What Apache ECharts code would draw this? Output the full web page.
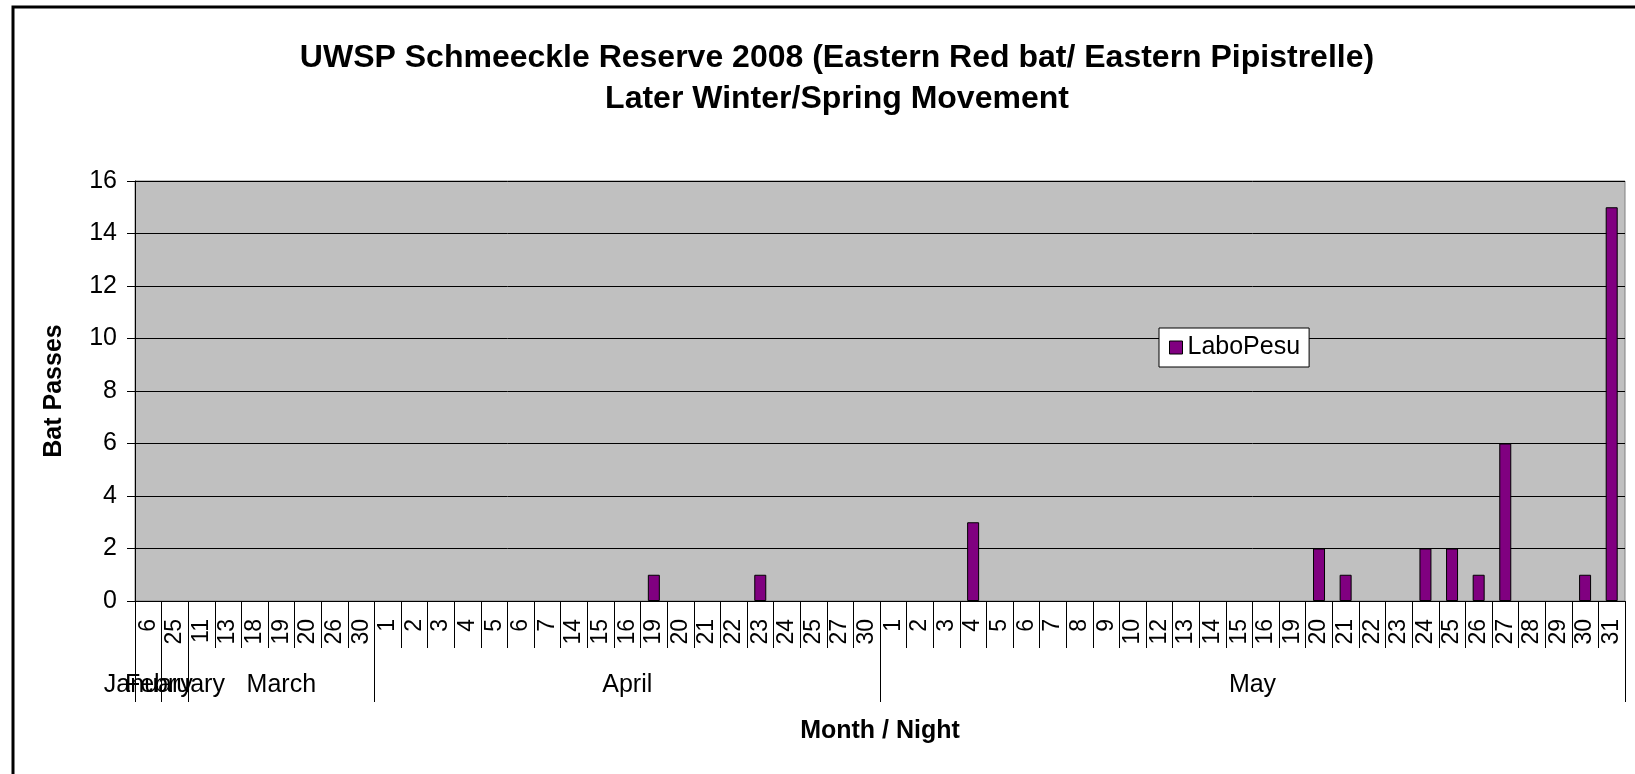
<!DOCTYPE html>
<html>
<head>
<meta charset="utf-8">
<script src="https://cdn.jsdelivr.net/npm/echarts@6/dist/echarts.min.js"></script>
<style>
html,body{margin:0;padding:0;background:#fff;}
#chart{width:1635px;height:774px;}
</style>
</head>
<body>
<div id="chart"></div>
<script>
// ---- data ----
const monthNames = ['January', 'February', 'March', 'April', 'May'];
const janDays = ['6'];
const febDays = ['25'];
const marDays = ['11', '13', '18', '19', '20', '26', '30'];
const aprDays = ['1', '2', '3', '4', '5', '6', '7', '14', '15', '16', '19', '20', '21', '22', '23', '24', '25', '27', '30'];
const mayDays = ['1', '2', '3', '4', '5', '6', '7', '8', '9', '10', '12', '13', '14', '15', '16', '19', '20', '21', '22', '23', '24', '25', '26', '27', '28', '29', '30', '31'];
const janVals = [0];
const febVals = [0];
const marVals = [0, 0, 0, 0, 0, 0, 0];
const aprVals = [0, 0, 0, 0, 0, 0, 0, 0, 0, 0, 1, 0, 0, 0, 1, 0, 0, 0, 0];
const mayVals = [0, 0, 0, 3, 0, 0, 0, 0, 0, 0, 0, 0, 0, 0, 0, 0, 2, 1, 0, 0, 2, 2, 1, 6, 0, 0, 1, 15];
const seriesName = 'LaboPesu';
const yTicks = { min: 0, max: 16, interval: 2 };

// ---- build ----
const monthDays = [janDays, febDays, marDays, aprDays, mayDays];
const monthVals = [janVals, febVals, marVals, aprVals, mayVals];
const categories = [].concat(...monthDays);
const values = [].concat(...monthVals);
const boundaries = [0];
const centers = [];
monthDays.forEach(d => {
  const start = boundaries[boundaries.length - 1];
  centers.push(start + d.length / 2);
  boundaries.push(start + d.length);
});
const N = categories.length;
const FONT = 'Liberation Sans, Arial, sans-serif';

function monthAxis(parity, withTicks) {
  const vals = centers.filter((c, i) => i % 2 === parity);
  return {
    type: 'value',
    position: 'bottom',
    min: 0,
    max: N,
    axisLine: { show: false },
    axisTick: { show: withTicks, customValues: boundaries, length: 101, lineStyle: { color: '#000' } },
    axisLabel: {
      show: true,
      customValues: vals,
      showMinLabel: true,
      showMaxLabel: true,
      hideOverlap: false,
      margin: 72,
      fontFamily: FONT, fontSize: 25, color: '#000',
      formatter: function (v) {
        const i = centers.findIndex(c => Math.abs(c - v) < 1e-6);
        return i >= 0 ? monthNames[i] : '';
      }
    },
    splitLine: { show: false }
  };
}

const chart = echarts.init(document.getElementById('chart'));
chart.setOption({
  animation: false,
  backgroundColor: '#ffffff',
  textStyle: { fontFamily: FONT, color: '#000' },
  title: {
    text: 'UWSP Schmeeckle Reserve 2008 (Eastern Red bat/ Eastern Pipistrelle)\nLater Winter/Spring Movement',
    left: 832,
    textAlign: 'center',
    top: 33,
    textStyle: { fontFamily: FONT, fontSize: 32, fontWeight: 'bold', color: '#000', lineHeight: 41 }
  },
  legend: {
    left: 1159,
    top: 328,
    orient: 'vertical',
    backgroundColor: '#ffffff',
    borderColor: '#000',
    borderWidth: 1,
    padding: [7, 9, 7, 10],
    itemWidth: 13,
    itemHeight: 13,
    itemGap: 6,
    icon: 'rect',
    itemStyle: { borderColor: '#000', borderWidth: 1 },
    textStyle: { fontFamily: FONT, fontSize: 25, color: '#000' },
    data: [seriesName]
  },
  grid: {
    left: 135, right: 10, top: 181, bottom: 173,
    show: true, backgroundColor: '#C0C0C0', borderColor: '#808080', borderWidth: 1,
    containLabel: false
  },
  xAxis: [
    {
      type: 'category',
      data: categories,
      boundaryGap: true,
      name: 'Month / Night',
      nameLocation: 'middle',
      nameGap: 118,
      nameTextStyle: { fontFamily: FONT, fontSize: 25, fontWeight: 'bold', color: '#000' },
      axisLine: { show: true, lineStyle: { color: '#000', width: 1 } },
      axisTick: { show: true, interval: 0, length: 47, lineStyle: { color: '#000' } },
      axisLabel: { interval: 0, rotate: 90, margin: 18, fontFamily: FONT, fontSize: 23, color: '#000' },
      splitLine: { show: false }
    },
    monthAxis(0, true),
    monthAxis(1, false)
  ],
  yAxis: {
    type: 'value',
    min: yTicks.min,
    max: yTicks.max,
    interval: yTicks.interval,
    name: 'Bat Passes',
    nameLocation: 'middle',
    nameGap: 68,
    nameTextStyle: { fontFamily: FONT, fontSize: 25, fontWeight: 'bold', color: '#000' },
    axisLine: { show: true, lineStyle: { color: '#000', width: 1 } },
    axisTick: { show: true, length: 8, lineStyle: { color: '#000' } },
    axisLabel: { margin: 18, fontFamily: FONT, fontSize: 25, color: '#000' },
    splitLine: { show: true, lineStyle: { color: '#000', width: 1 } }
  },
  series: [{
    name: seriesName,
    type: 'bar',
    xAxisIndex: 0,
    data: values.map(v => (v === 0 ? null : v)),
    barWidth: 12,
    itemStyle: { color: '#800080', borderColor: '#000', borderWidth: 1 }
  }],
  graphic: [{
    type: 'rect',
    shape: { x: 13, y: 7, width: 1700, height: 900 },
    style: { fill: 'none', stroke: '#000', lineWidth: 3 },
    silent: true,
    z: 100
  }]
});
</script>
</body>
</html>
